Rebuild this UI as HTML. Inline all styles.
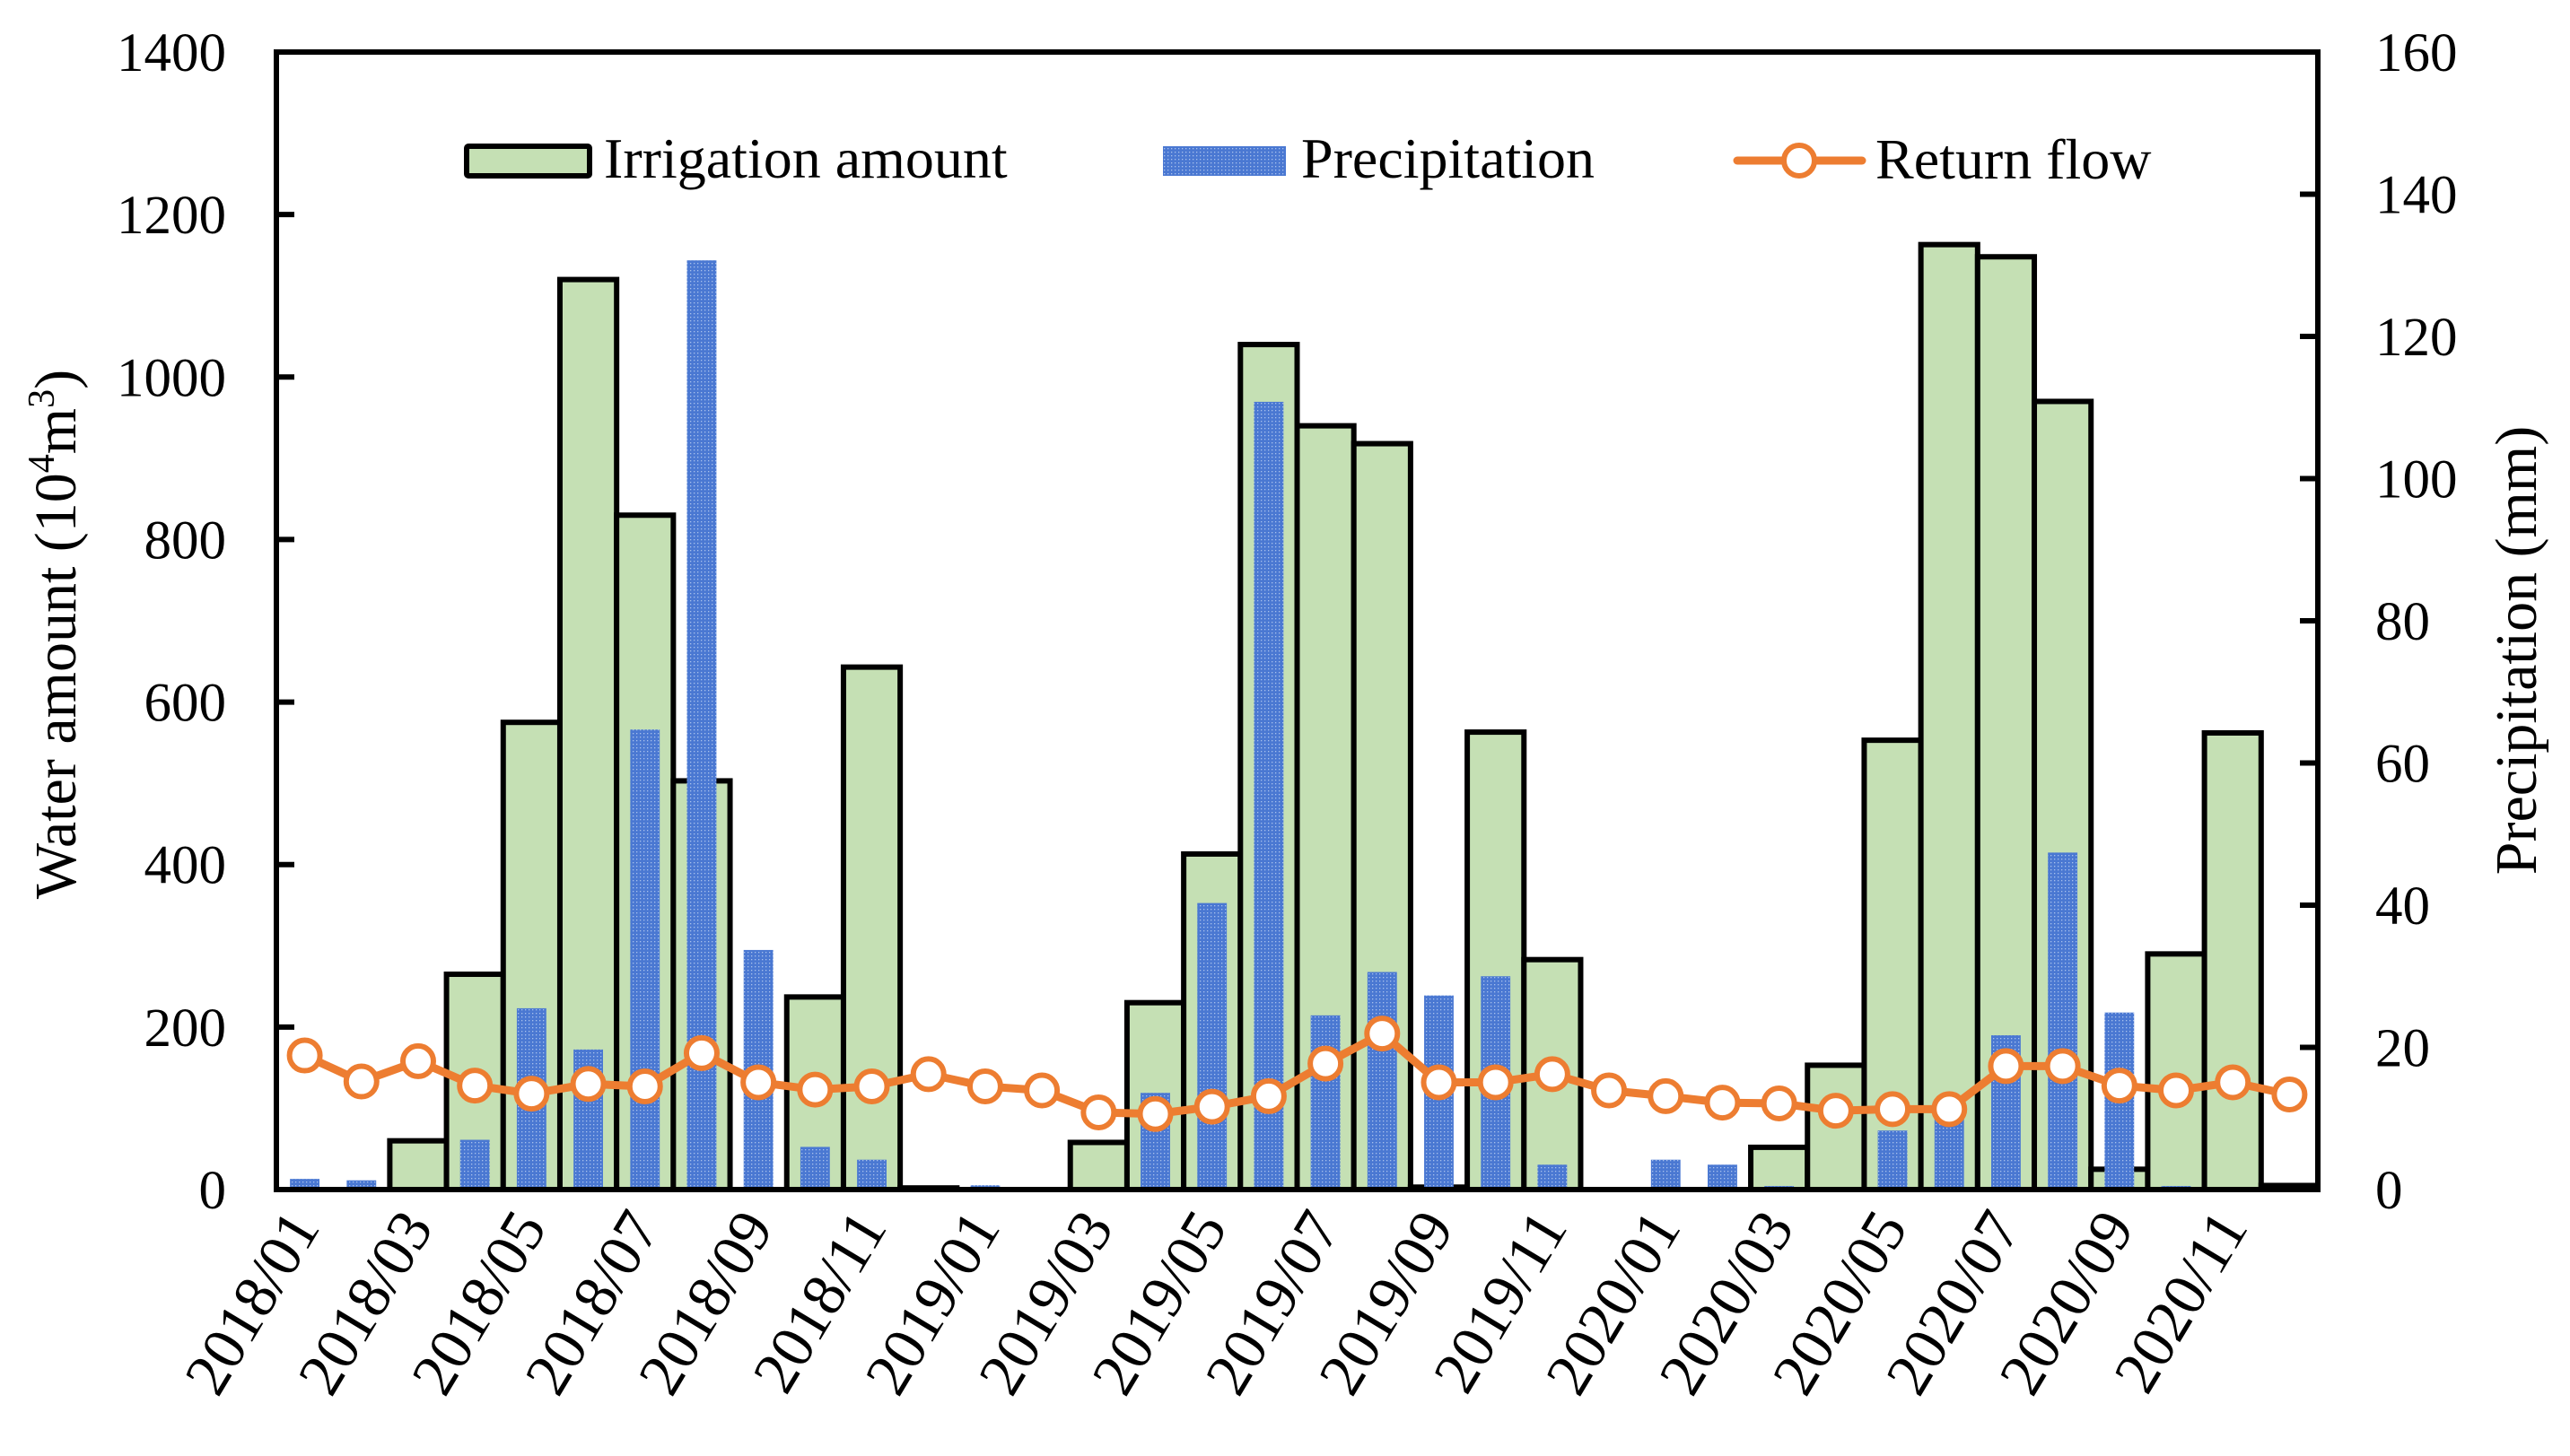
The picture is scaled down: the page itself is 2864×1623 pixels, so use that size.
<!DOCTYPE html>
<html><head><meta charset="utf-8"><style>
html,body{margin:0;padding:0;background:#fff;}
svg{display:block;font-family:"Liberation Serif","Times New Roman",serif;}
</style></head><body>
<svg id="chart" width="2864" height="1623" viewBox="0 0 2864 1623" xmlns="http://www.w3.org/2000/svg">
<defs>
<pattern id="dots" width="4" height="4" patternUnits="userSpaceOnUse">
<rect width="4" height="4" fill="#4a78d2"/>
<rect x="1" y="1" width="1.3" height="1.3" fill="#a9c1ec"/>
</pattern>
</defs>
<g id="plot"></g>
<g id="axes"></g>
<g id="legend">
<rect x="520" y="163" width="137" height="33" fill="#c5e0b4" stroke="#000" stroke-width="6" rx="2"/>
<text x="673" y="198" font-size="64">Irrigation amount</text>
<rect x="1296" y="163" width="137" height="33" fill="url(#dots)"/>
<text x="1450" y="198" font-size="64">Precipitation</text>
<line x1="1936" y1="179" x2="2075" y2="179" stroke="#ed7d31" stroke-width="9" stroke-linecap="round"/>
<circle cx="2005" cy="179" r="17" fill="#fff" stroke="#ed7d31" stroke-width="6"/>
<text x="2090" y="199" font-size="64">Return flow</text>
</g>
<text transform="translate(84,707) rotate(-90)" text-anchor="middle" font-size="66">Water amount (10<tspan font-size="42" dy="-24">4</tspan><tspan dy="24">m</tspan><tspan font-size="42" dy="-24">3</tspan><tspan dy="24">)</tspan></text>
<text transform="translate(2826,725) rotate(-90)" text-anchor="middle" font-size="66">Precipitation (mm)</text>
</svg>
<script>
const months = ["2018/01","2018/02","2018/03","2018/04","2018/05","2018/06","2018/07","2018/08","2018/09","2018/10","2018/11","2018/12",
"2019/01","2019/02","2019/03","2019/04","2019/05","2019/06","2019/07","2019/08","2019/09","2019/10","2019/11","2019/12",
"2020/01","2020/02","2020/03","2020/04","2020/05","2020/06","2020/07","2020/08","2020/09","2020/10","2020/11","2020/12"];
const irrigation = [0,0,60,265,575,1120,830,503,0,237,643,2, 0,0,58,230,413,1040,940,918,3,563,283,0, 0,0,52,153,553,1163,1148,970,25,290,562,5];
const precipitation = [1.5,1.3,0,7,25.5,19.7,64.7,130.7,33.7,6,4.2,0, 0.6,0,0,13.6,40.3,110.8,24.5,30.6,27.3,30,3.5,0, 4.2,3.5,0.5,0,8.3,12,21.7,47.4,24.9,0.5,0.3,0];
const returnFlow = [165,133,158,128,118,130,127,168,132,123,127,142, 127,122,95,93,102,115,155,192,132,132,142,122, 115,107,106,97,99,99,152,152,128,122,132,117];
const leftTicks = [0,200,400,600,800,1000,1200,1400];
const rightTicks = [0,20,40,60,80,100,120,140,160];

const NS="http://www.w3.org/2000/svg";
const X0=308,X1=2583,Y0=1326,Y1=58;
const band=(X1-X0)/months.length;
const xc=i=>X0+band*(i+0.5);
const yL=v=>Y0-(v/1400)*(Y0-Y1);
const yR=v=>Y0-(v/160)*(Y0-Y1);
function mk(tag,attrs,parent){const e=document.createElementNS(NS,tag);for(const k in attrs)e.setAttribute(k,attrs[k]);parent.appendChild(e);return e;}
const plot=document.getElementById('plot'), axes=document.getElementById('axes');

irrigation.forEach((v,i)=>{
  if(v<=0) return;
  const r=mk('rect',{x:X0+band*i,y:yL(v),width:band,height:Y0-yL(v),fill:'#c5e0b4',stroke:'#000','stroke-width':6},plot);
  
  
});
precipitation.forEach((v,i)=>{
  if(v<=0) return;
  const w=band*0.52;
  const r=mk('rect',{x:xc(i)-w/2,y:yR(v),width:w,height:Y0-yR(v),fill:'url(#dots)'},plot);
  
  
});
const pts=returnFlow.map((v,i)=>xc(i)+','+yL(v)).join(' ');
const pl=mk('polyline',{points:pts,fill:'none',stroke:'#ed7d31','stroke-width':9,'stroke-linejoin':'round'},plot);


returnFlow.forEach((v,i)=>{
  const c=mk('circle',{cx:xc(i),cy:yL(v),r:17,fill:'#fff',stroke:'#ed7d31','stroke-width':6},plot);
  
  
});

const frame=mk('rect',{x:X0,y:Y1,width:X1-X0,height:Y0-Y1,fill:'none',stroke:'#000','stroke-width':6},axes);


leftTicks.forEach(v=>{
  const y=yL(v);
  const t=mk('line',{x1:X0,y1:y,x2:X0+20,y2:y,stroke:'#000','stroke-width':6},axes);
  
  
  const l=mk('text',{x:252,y:y+21,'text-anchor':'end','font-size':61},axes);
  l.textContent=v;
  
  
});
rightTicks.forEach(v=>{
  const y=yR(v);
  const t=mk('line',{x1:X1-20,y1:y,x2:X1,y2:y,stroke:'#000','stroke-width':6},axes);
  
  
  const l=mk('text',{x:2647,y:y+21,'text-anchor':'start','font-size':61},axes);
  l.textContent=v;
  
  
});
months.forEach((m,i)=>{
  if(i%2!==0) return;
  const x=xc(i)+18,y=1368;
  const l=mk('text',{x:0,y:0,'text-anchor':'end','font-size':68,transform:`translate(${x},${y}) rotate(-59)`},axes);
  l.textContent=m;
  
  
});
</script>
</body></html>
